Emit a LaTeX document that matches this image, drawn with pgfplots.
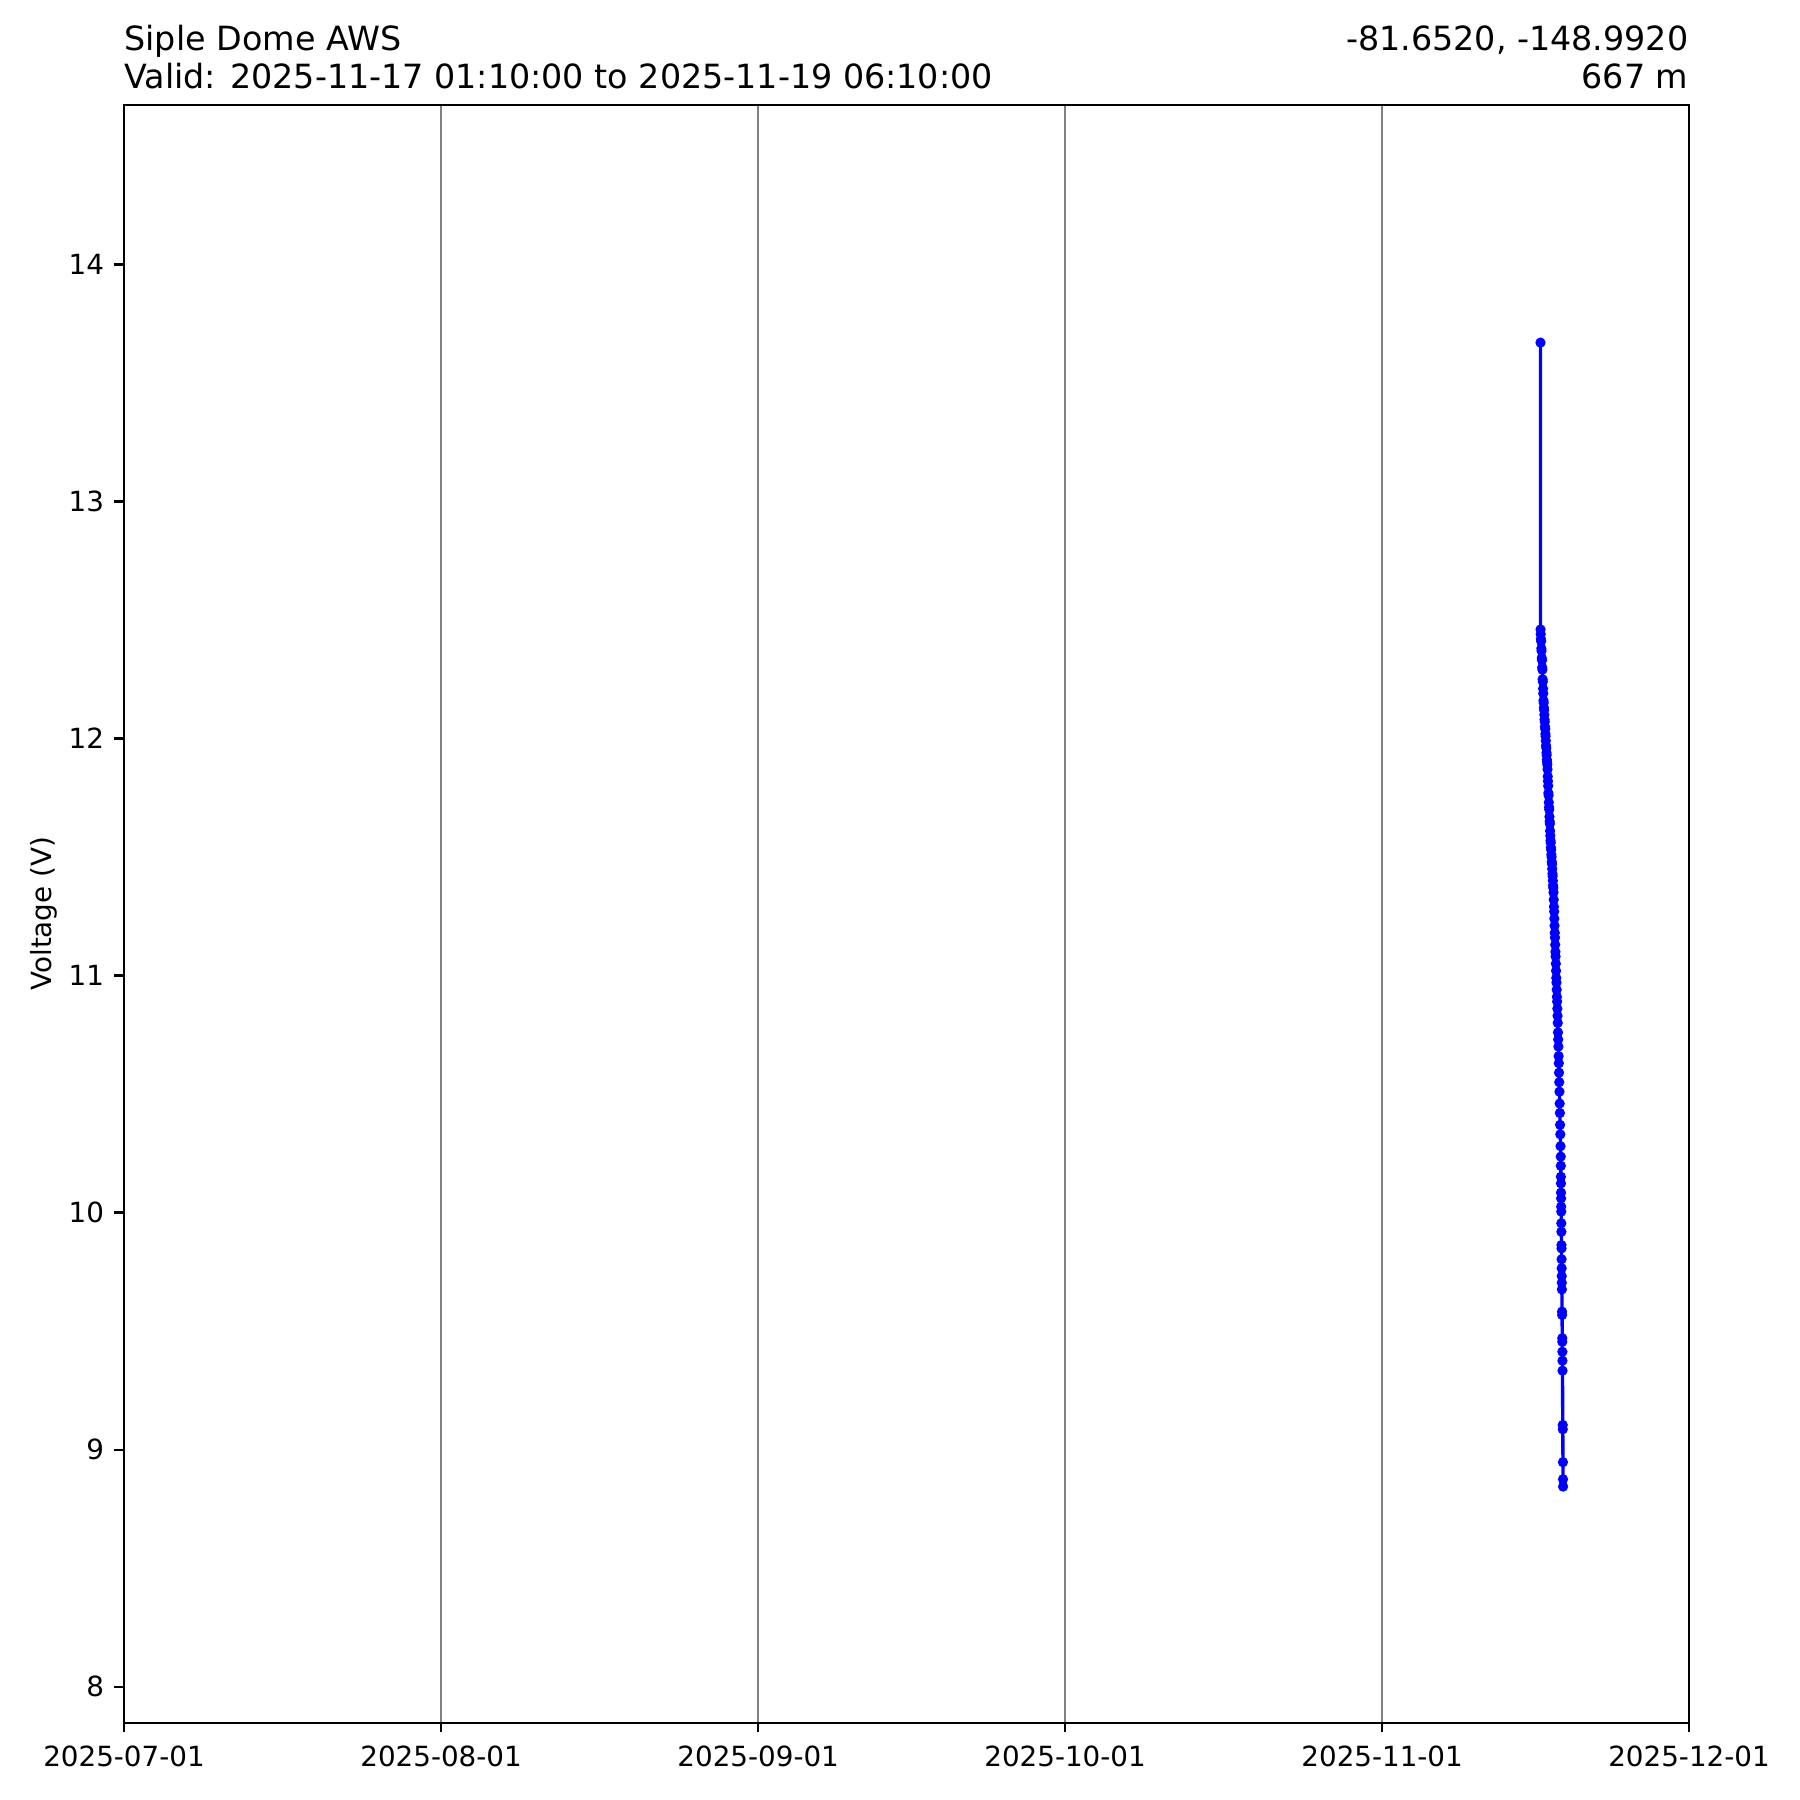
\documentclass[border=0pt]{standalone}
\usepackage{fontspec}
\setmainfont{DejaVu Sans}
\usepackage{pgfplots}
\pgfplotsset{compat=1.18}
\usepackage{pgfplotstable}
\pgfplotstableread{
h v
0.00 13.67
0.17 12.46
0.5 12.44
1.0 12.42
1.5 12.41
2.0 12.38
2.5 12.37
3.0 12.34
3.5 12.33
4.0 12.30
4.5 12.29
5.0 12.25
5.5 12.24
6.0 12.21
6.5 12.19
7.0 12.16
7.5 12.15
8.0 12.13
8.5 12.12
9.0 12.10
9.5 12.08
10.0 12.07
10.5 12.05
11.0 12.04
11.5 12.02
12.0 12.01
12.5 11.99
13.0 11.97
13.5 11.96
14.0 11.94
14.5 11.93
15.0 11.91
15.5 11.90
16.0 11.89
16.5 11.87
17.0 11.84
17.5 11.82
18.0 11.80
18.5 11.77
19.0 11.76
19.5 11.73
20.0 11.71
20.5 11.70
21.0 11.67
21.5 11.65
22.0 11.64
22.5 11.61
23.0 11.59
23.5 11.57
24.0 11.56
24.5 11.54
25.0 11.53
25.5 11.51
26.0 11.50
26.5 11.48
27.0 11.47
27.5 11.45
28.0 11.43
28.5 11.42
29.0 11.40
29.5 11.38
30.0 11.37
30.5 11.35
31.0 11.32
31.5 11.29
32.0 11.27
32.5 11.24
33.0 11.21
33.5 11.18
34.0 11.16
34.5 11.13
35.0 11.10
35.5 11.08
36.0 11.05
36.5 11.02
37.0 10.99
37.5 10.97
38.0 10.94
38.5 10.91
39.0 10.89
39.5 10.86
40.0 10.83
40.5 10.80
41.0 10.76
41.5 10.73
42.0 10.70
42.5 10.66
43.0 10.63
43.5 10.59
44.0 10.55
44.5 10.51
45.0 10.46
45.5 10.42
46.0 10.37
46.5 10.33
47.0 10.28
47.5 10.236
47.67 10.197
47.83 10.151
48.0 10.123
48.17 10.084
48.33 10.060
48.5 10.025
48.67 10.004
48.83 9.955
49.0 9.919
49.17 9.863
49.33 9.849
49.5 9.803
49.67 9.765
49.83 9.732
50.0 9.704
50.17 9.676
50.5 9.582
50.67 9.568
51.0 9.470
51.17 9.455
51.33 9.413
51.5 9.375
51.67 9.333
52.17 9.104
52.33 9.086
52.67 8.947
52.83 8.875
53.0 8.844
}\volt
\begin{document}
\begin{tikzpicture}
\path[use as bounding box] (0,0) rectangle (648bp,648bp);
\begin{axis}[
  at={(44.64bp,27.83bp)}, anchor=south west,
  scale only axis, width=563.4bp, height=582.5bp,
  xmin=0, xmax=153, ymin=7.848, ymax=14.674,
  xtick={0,31,62,92,123,153},
  xticklabels={2025-07-01,2025-08-01,2025-09-01,2025-10-01,2025-11-01,2025-12-01},
  ytick={8,9,10,11,12,13,14},
  /pgf/number format/assume math mode=true,
  tick align=outside, major tick length=3.5bp,
  every tick/.style={black, line width=0.8bp},
  axis line style={line width=0.8bp},
  tick label style={font=\fontsize{10bp}{12bp}\selectfont, inner sep=0pt},
  xticklabel style={anchor=north, yshift=-4.8bp},
  yticklabel style={anchor=east, xshift=-3.5bp},
  xmajorgrids, grid style={color=gray, line width=0.8bp},
  ytick pos=left, xtick pos=bottom,
  clip=false,
]
\addplot[blue, line width=1.2bp, mark=*, mark size=1.2bp, mark options={fill=blue, draw=blue}]
  table[x expr={138.48+\thisrow{h}/24}, y=v] {\volt};
\node[anchor=base west, inner sep=0pt, yshift=19.4bp, font=\fontsize{12bp}{14bp}\selectfont] at (rel axis cs:0,1) {Siple Dome AWS};
\node[anchor=base west, inner sep=0pt, yshift=5.83bp, font=\fontsize{12bp}{14bp}\selectfont] at (rel axis cs:0,1) {Valid: 2025-11-17 01:10:00 to 2025-11-19 06:10:00};
\node[anchor=base east, inner sep=0pt, yshift=19.4bp, font=\fontsize{12bp}{14bp}\selectfont] at (rel axis cs:1,1) {-81.6520, -148.9920};
\node[anchor=base east, inner sep=0pt, yshift=5.83bp, font=\fontsize{12bp}{14bp}\selectfont] at (rel axis cs:1,1) {667 m};
\node[xshift=-26.0bp, anchor=base, rotate=90, inner sep=0pt, font=\fontsize{10bp}{12bp}\selectfont] at (rel axis cs:0,0.5) {Voltage (V)};
\end{axis}
\end{tikzpicture}
\end{document}
